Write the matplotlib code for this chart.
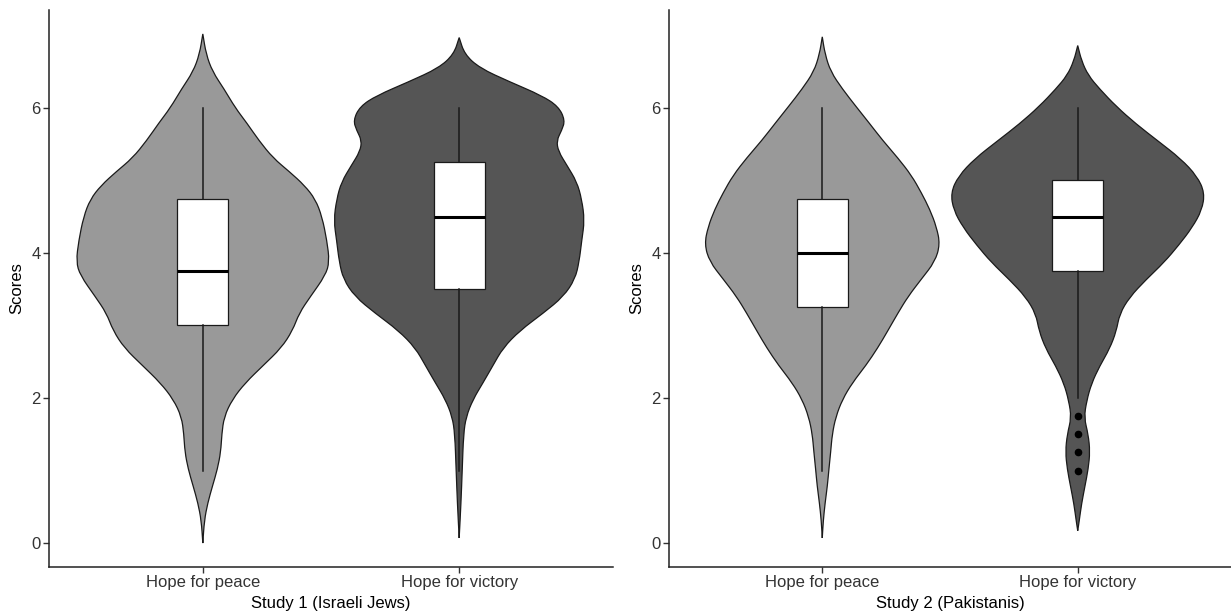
import numpy as np
import matplotlib.pyplot as plt
from matplotlib.path import Path
from matplotlib.patches import PathPatch

plt.rcParams['font.family'] = ['Liberation Sans', 'DejaVu Sans']

categories = ['Hope for peace', 'Hope for victory']
panel_titles = ['Study 1 (Israeli Jews)', 'Study 2 (Pakistanis)']
fills = ['#999999', '#555555']

# violin outlines: score level -> half width (category units)
s1_peace_y = [7.02, 6.74, 6.5, 6.26, 6.0, 5.79, 5.55, 5.31, 5.12, 4.93, 4.74, 4.5, 4.17, 3.88, 3.69,
              3.4, 3.17, 2.93, 2.69, 2.45, 2.21, 1.98, 1.74, 1.5, 1.26, 1.02, 0.79, 0.55, 0.31, 0.0]
s1_peace_w = [0, 0.013, 0.038, 0.083, 0.127, 0.172, 0.219, 0.274, 0.338, 0.397, 0.439, 0.465, 0.484, 0.494, 0.478,
              0.420, 0.376, 0.350, 0.306, 0.236, 0.166, 0.115, 0.083, 0.074, 0.070, 0.057, 0.038, 0.019, 0.006, 0]

s1_victory_y = [6.97, 6.74, 6.55, 6.36, 6.17, 6.02, 5.83, 5.69, 5.55, 5.4, 5.21, 4.98, 4.74, 4.45, 4.17,
                3.88, 3.64, 3.4, 3.17, 2.93, 2.69, 2.45, 2.21, 1.98, 1.74, 1.5, 1.02, 0.55, 0.07]
s1_victory_w = [0, 0.021, 0.080, 0.197, 0.322, 0.387, 0.413, 0.400, 0.380, 0.387, 0.420, 0.459, 0.478, 0.489, 0.478,
                0.468, 0.452, 0.407, 0.328, 0.237, 0.171, 0.132, 0.093, 0.054, 0.027, 0.017, 0.012, 0.007, 0]

s2_peace_y = [6.98, 6.74, 6.5, 6.26, 6.02, 5.79, 5.55, 5.31, 5.07, 4.83, 4.6, 4.36, 4.12, 3.88, 3.64,
              3.4, 3.17, 2.93, 2.69, 2.45, 2.21, 1.98, 1.74, 1.5, 1.26, 1.02, 0.79, 0.55, 0.31, 0.07]
s2_peace_w = [0, 0.011, 0.033, 0.079, 0.132, 0.184, 0.237, 0.296, 0.349, 0.388, 0.421, 0.447, 0.461, 0.441, 0.388,
              0.336, 0.296, 0.257, 0.217, 0.171, 0.118, 0.079, 0.053, 0.039, 0.033, 0.026, 0.020, 0.011, 0.004, 0]

s2_victory_y = [6.86, 6.65, 6.45, 6.26, 6.02, 5.78, 5.55, 5.3, 5.06, 4.83, 4.59, 4.35, 4.11, 3.87, 3.63,
                3.39, 3.16, 2.92, 2.68, 2.44, 2.2, 1.96, 1.73, 1.5, 1.26, 1.02, 0.78, 0.54, 0.31, 0.17]
s2_victory_w = [0, 0.015, 0.041, 0.086, 0.151, 0.228, 0.312, 0.403, 0.467, 0.497, 0.486, 0.448, 0.396, 0.338, 0.267,
                0.203, 0.164, 0.151, 0.125, 0.086, 0.054, 0.035, 0.025, 0.041, 0.048, 0.041, 0.028, 0.015, 0.006, 0]

# box plot stats: whisker low, q1, median, q3, whisker high
s1_peace_box = [1.0, 3.0, 3.75, 4.75, 6.0]
s1_victory_box = [1.0, 3.5, 4.5, 5.25, 6.0]
s2_peace_box = [1.0, 3.25, 4.0, 4.75, 6.0]
s2_victory_box = [2.0, 3.75, 4.5, 5.0, 6.0]
s2_victory_out = [1.75, 1.5, 1.25, 1.0]

panels = [
    [(s1_peace_y, s1_peace_w, s1_peace_box, []), (s1_victory_y, s1_victory_w, s1_victory_box, [])],
    [(s2_peace_y, s2_peace_w, s2_peace_box, []), (s2_victory_y, s2_victory_w, s2_victory_box, s2_victory_out)],
]


def violin_patch(xc, ys, ws, color):
    ys = np.asarray(ys, float)
    ws = np.asarray(ws, float)
    # right side bottom -> top, left side top -> bottom
    right = np.column_stack([xc + ws[::-1], ys[::-1]])
    left = np.column_stack([xc - ws, ys])
    pts = np.vstack([right, left])
    n = len(pts)
    mids = (pts + np.roll(pts, -1, axis=0)) / 2
    verts = [mids[-1]]
    codes = [Path.MOVETO]
    for i in range(n):
        verts += [pts[i], mids[i]]
        codes += [Path.CURVE3, Path.CURVE3]
    return PathPatch(Path(verts, codes), facecolor=color, edgecolor='#1a1a1a', lw=0.9, zorder=1)


fig = plt.figure(figsize=(12.31, 6.13), dpi=100)
rects = [[49 / 1231, 46 / 613, 564 / 1231, 557 / 613], [669 / 1231, 46 / 613, 562 / 1231, 557 / 613]]

for rect, groups, title in zip(rects, panels, panel_titles):
    ax = fig.add_axes(rect)
    stats = []
    for i, (ys, ws, box, out) in enumerate(groups):
        ax.add_patch(violin_patch(i + 1, ys, ws, fills[i]))
        stats.append(dict(whislo=box[0], q1=box[1], med=box[2], q3=box[3], whishi=box[4], fliers=out))
    ax.bxp(stats, positions=[1, 2], widths=0.2, patch_artist=True, showcaps=False,
           boxprops=dict(facecolor='white', edgecolor='#1a1a1a', lw=0.9),
           whiskerprops=dict(color='#1a1a1a', lw=1.1),
           medianprops=dict(color='black', lw=2.2),
           flierprops=dict(marker='o', markerfacecolor='black', markeredgecolor='black', markersize=4.5),
           manage_ticks=False, zorder=2)
    ax.set_xlim(0.4, 2.6)
    ax.set_ylim(-0.33, 7.35)
    ax.set_xticks([1, 2])
    ax.set_xticklabels(categories)
    ax.set_yticks([0, 2, 4, 6])
    ax.spines['top'].set_visible(False)
    ax.spines['right'].set_visible(False)
    for s in ['left', 'bottom']:
        ax.spines[s].set_color('#222222')
        ax.spines[s].set_linewidth(1.1)
    ax.tick_params(length=4, width=1, color='#333333', labelsize=12, labelcolor='#333333', pad=2)
    ax.set_xlabel(title, fontsize=12, labelpad=4)
    ax.set_ylabel('Scores', fontsize=12, labelpad=5)

fig.savefig('out.png', dpi=100)
